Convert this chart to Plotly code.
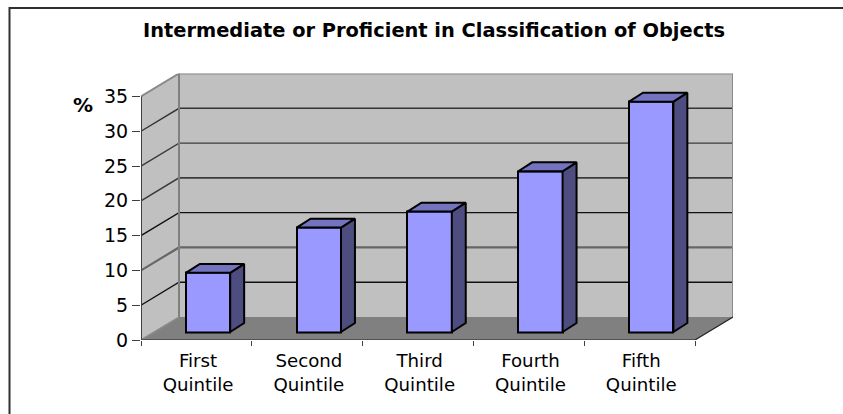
import plotly.graph_objects as go

# Chart content
categories = ["First<br>Quintile", "Second<br>Quintile", "Third<br>Quintile",
              "Fourth<br>Quintile", "Fifth<br>Quintile"]
values = [8.5, 15.0, 17.3, 23.1, 33.1]
y_ticks = [0, 5, 10, 15, 20, 25, 30, 35]
title_text = "Intermediate or Proficient in Classification of Objects"

W, H = 843, 414
N = len(categories)
Y_MAX = 35

# Oblique depth of the chart box, in axis units
DEPTH_X = 0.343
DEPTH_Y = 3.3

# Bar placement inside the box
BAR_WIDTH = 0.40
BAR_SHIFT_X = 0.105
BAR_SHIFT_Y = 1.15
BAR_DEPTH_X = 0.126
BAR_DEPTH_Y = 1.29

FONT = "DejaVu Sans"


def path(points, close=False):
    body = " L ".join(f"{x},{y}" for x, y in points)
    return "M " + body + (" Z" if close else "")


def below(points, fill=None, color=None, width=0, close=False):
    return dict(type="path", xref="x", yref="y", layer="below",
                path=path(points, close),
                fillcolor=fill if fill else "rgba(0,0,0,0)",
                line=dict(color=color if color else "rgba(0,0,0,0)", width=width))


shapes = []
# outer chart frame, left and top edges only are on the page
shapes.append(dict(type="rect", xref="paper", yref="paper",
                   x0=9.5 / W, x1=1.05, y0=-0.1, y1=1 - 8 / H,
                   line=dict(color="#303030", width=2), layer="below"))

x_end, top = float(N), float(Y_MAX)
# left wall, back wall, floor
shapes.append(below([(0, 0), (DEPTH_X, DEPTH_Y), (DEPTH_X, top + DEPTH_Y), (0, top)],
                    fill="#C0C0C0", close=True))
shapes.append(below([(DEPTH_X, DEPTH_Y), (x_end + DEPTH_X, DEPTH_Y),
                     (x_end + DEPTH_X, top + DEPTH_Y), (DEPTH_X, top + DEPTH_Y)],
                    fill="#C0C0C0", close=True))
shapes.append(below([(0, 0), (x_end, 0), (x_end + DEPTH_X, DEPTH_Y), (DEPTH_X, DEPTH_Y)],
                    fill="#808080", close=True))

# gridlines run along the left wall and across the back wall
grid_style = {5: ("#111111", 1.4), 10: ("#666666", 2.2), 15: ("#111111", 1.4),
              20: ("#3c3c3c", 1.6), 25: ("#3c3c3c", 1.4), 30: ("#333333", 1.4)}
for v, (c, w) in grid_style.items():
    shapes.append(below([(0, v), (DEPTH_X, v + DEPTH_Y), (x_end + DEPTH_X, v + DEPTH_Y)],
                        color=c, width=w))

# wall edges
shapes.append(below([(0, top), (DEPTH_X, top + DEPTH_Y), (x_end + DEPTH_X, top + DEPTH_Y),
                     (x_end + DEPTH_X, DEPTH_Y)], color="#8a8a8a", width=2))
shapes.append(below([(DEPTH_X, top + DEPTH_Y), (DEPTH_X, DEPTH_Y)], color="#808080", width=2))
shapes.append(below([(0, 0), (DEPTH_X, DEPTH_Y)], color="#8a8a8a", width=1.5))
shapes.append(below([(0, 0), (0, top)], color="#404040", width=2))
shapes.append(below([(0, 0), (x_end, 0)], color="#404040", width=1.5))
shapes.append(below([(x_end, 0), (x_end + DEPTH_X, DEPTH_Y)], color="#222222", width=1.2))

fig = go.Figure()

# front faces of the columns
centers = [i + 0.5 + BAR_SHIFT_X for i in range(N)]
fig.add_trace(go.Bar(x=centers, y=values, base=BAR_SHIFT_Y, width=BAR_WIDTH,
                     marker=dict(color="#9999FF", line=dict(color="#000000", width=2)),
                     hoverinfo="skip", showlegend=False))

# side and top faces, offset from the same values
side_x, side_y, top_x, top_y = [], [], [], []
for c, v in zip(centers, values):
    x0, x1 = c - BAR_WIDTH / 2, c + BAR_WIDTH / 2
    y0, y1 = BAR_SHIFT_Y, BAR_SHIFT_Y + v
    side_x += [x1, x1 + BAR_DEPTH_X, x1 + BAR_DEPTH_X, x1, x1, None]
    side_y += [y0, y0 + BAR_DEPTH_Y, y1 + BAR_DEPTH_Y, y1, y0, None]
    top_x += [x0, x1, x1 + BAR_DEPTH_X, x0 + BAR_DEPTH_X, x0, None]
    top_y += [y1, y1, y1 + BAR_DEPTH_Y, y1 + BAR_DEPTH_Y, y1, None]

for xs, ys, colour in ((side_x, side_y, "#4D4D80"), (top_x, top_y, "#7373BF")):
    fig.add_trace(go.Scatter(x=xs, y=ys, mode="lines", fill="toself", fillcolor=colour,
                             line=dict(color="#000000", width=2),
                             hoverinfo="skip", showlegend=False))

fig.update_layout(
    width=W, height=H,
    margin=dict(l=0, r=0, t=0, b=0, pad=0, autoexpand=False),
    paper_bgcolor="#FFFFFF", plot_bgcolor="rgba(0,0,0,0)",
    font=dict(family=FONT, color="#000000"),
    bargap=0,
    shapes=shapes,
    title=dict(text="<b>" + title_text + "</b>", font=dict(family=FONT, size=19.4, color="#000000"),
               x=434 / W, xanchor="center", xref="paper",
               y=1 - 30 / H, yanchor="middle", yref="paper"),
    annotations=[dict(text="<b>%</b>", x=83 / W, y=1 - 105 / H, xref="paper", yref="paper",
                      showarrow=False, xanchor="center", yanchor="middle",
                      font=dict(family=FONT, size=20, color="#000000"))],
    xaxis=dict(domain=[141 / W, 733 / W], range=[0, N + DEPTH_X],
               tickmode="array", tickvals=[i + 0.515 for i in range(N)], ticktext=categories,
               ticks="", showgrid=False, zeroline=False, showline=False, automargin=False,
               ticklabelstandoff=8,
               tickfont=dict(family=FONT, size=18.2, color="#000000"),
               minor=dict(tick0=0, dtick=1, ticks="outside", ticklen=5, tickwidth=1,
                          tickcolor="#404040", showgrid=False)),
    yaxis=dict(domain=[1 - 340 / H, 1 - 73.5 / H], range=[0, Y_MAX + DEPTH_Y],
               tickmode="array", tickvals=y_ticks, ticks="outside", ticklen=8, tickwidth=1,
               tickcolor="#404040", showgrid=False, zeroline=False, showline=False,
               automargin=False,
               tickfont=dict(family=FONT, size=19, color="#000000")),
)

fig.write_html("out.html")
